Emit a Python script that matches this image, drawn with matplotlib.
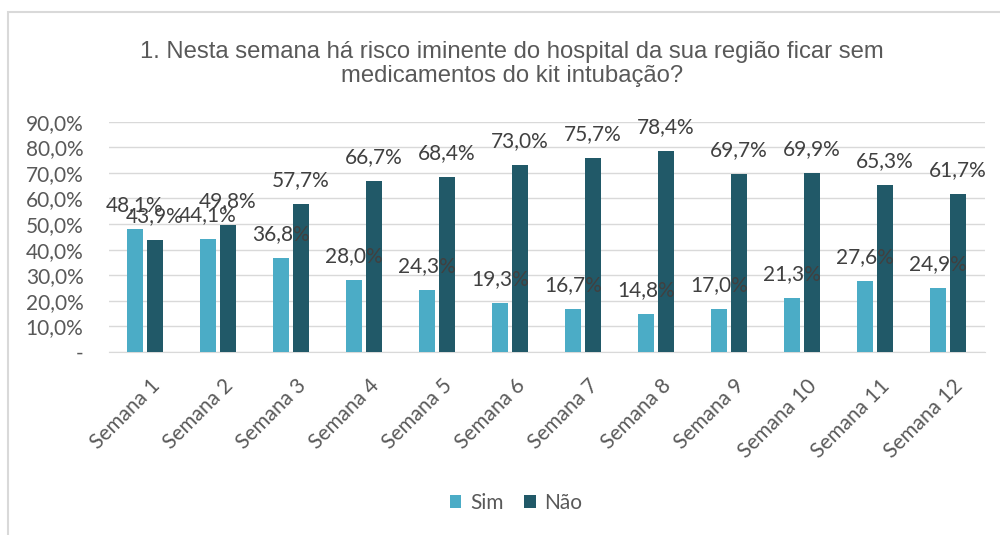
import matplotlib.pyplot as plt
import numpy as np
from matplotlib.patches import Rectangle
from matplotlib.ticker import FuncFormatter
from matplotlib.transforms import ScaledTranslation

# Data
semanas = ['Semana 1', 'Semana 2', 'Semana 3', 'Semana 4', 'Semana 5', 'Semana 6',
           'Semana 7', 'Semana 8', 'Semana 9', 'Semana 10', 'Semana 11', 'Semana 12']
sim = [48.1, 44.1, 36.8, 28.0, 24.3, 19.3, 16.7, 14.8, 17.0, 21.3, 27.6, 24.9]
nao = [43.9, 49.8, 57.7, 66.7, 68.4, 73.0, 75.7, 78.4, 69.7, 69.9, 65.3, 61.7]

cor_sim = '#4BACC6'
cor_nao = '#215968'
cinza = '#595959'
fonte = 'Lato'

fig = plt.figure(figsize=(10, 5.35), dpi=100)
ax = fig.add_axes([0.1085, 0.342, 0.876, 0.4305])

x = np.arange(len(semanas))
w = 0.21
b1 = ax.bar(x - 0.137, sim, w, color=cor_sim, label='Sim', zorder=3)
b2 = ax.bar(x + 0.137, nao, w, color=cor_nao, label='Não', zorder=3)

fmt = lambda v: '{:.1f}%'.format(v).replace('.', ',')
for bars in (b1, b2):
    ax.bar_label(bars, labels=[fmt(b.get_height()) for b in bars], padding=10,
                 fontsize=15, color='#404040', family=fonte, zorder=4)

ax.set_xlim(-0.5, len(semanas) - 0.5)
ax.set_ylim(0, 90)
ax.set_yticks(np.arange(0, 91, 10))
ax.yaxis.set_major_formatter(FuncFormatter(lambda v, p: '-' if v == 0 else fmt(v)))
ax.grid(axis='y', color='#D9D9D9', linewidth=1, zorder=0)
for s in ['top', 'right', 'left']:
    ax.spines[s].set_visible(False)
ax.spines['bottom'].set_color('#D9D9D9')
ax.tick_params(axis='both', length=0, colors=cinza, labelsize=15)
ax.tick_params(axis='y', pad=18)
ax.tick_params(axis='x', pad=17)
ax.set_xticks(x)
ax.set_xticklabels(semanas, rotation=45, ha='right', rotation_mode='anchor',
                   family=fonte)
desloc = ScaledTranslation(5 / 100, 0, fig.dpi_scale_trans)
for t in ax.get_xticklabels():
    t.set_transform(t.get_transform() + desloc)
for t in ax.get_yticklabels():
    t.set_family(fonte)

fig.text(0.512, 0.88, '1. Nesta semana há risco iminente do hospital da sua região ficar sem\n'
         'medicamentos do kit intubação?', ha='center', va='center',
         fontsize=17.2, color=cinza, family='Liberation Sans', linespacing=1.15)

fig.legend(loc='center', bbox_to_anchor=(0.516, 0.06), ncol=2, frameon=False,
           handlelength=0.55, handleheight=0.55, handletextpad=0.4, columnspacing=1.0,
           prop={'family': fonte, 'size': 15}, labelcolor=cinza)

# moldura
fig.patches.append(Rectangle((0.008, -0.05), 1.1, 1.028, transform=fig.transFigure,
                             fill=False, edgecolor='#D9D9D9', linewidth=1.5))

fig.savefig('out.png', dpi=100)
